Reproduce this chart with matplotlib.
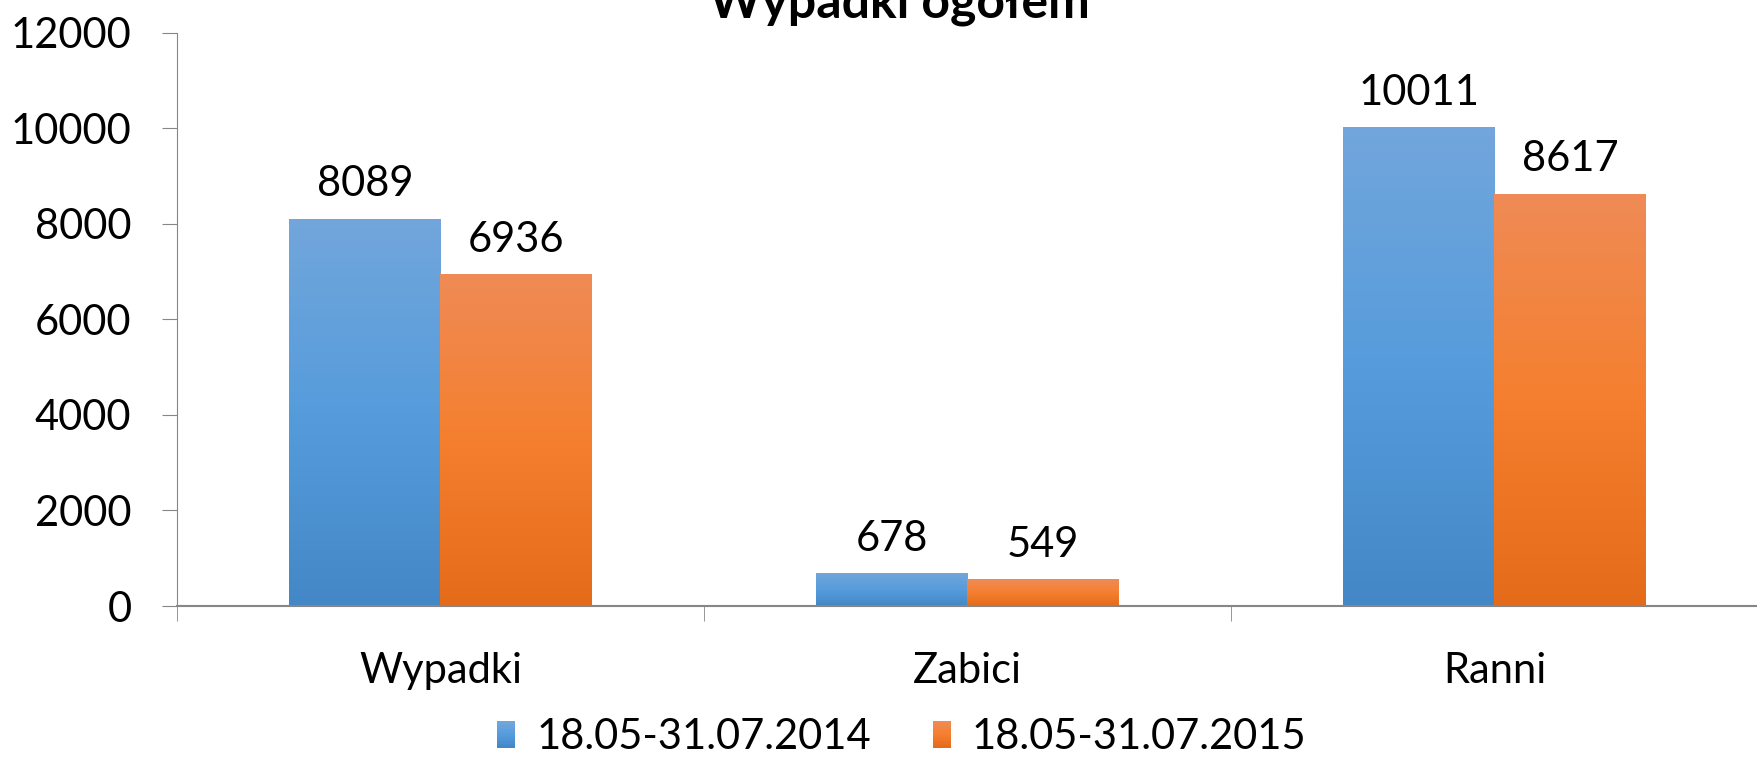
import numpy as np
import matplotlib
matplotlib.use('Agg')
import matplotlib.pyplot as plt
from matplotlib.patches import Patch, Rectangle
from matplotlib.legend_handler import HandlerBase
from matplotlib.colors import to_rgb

# Dane
kategorie = ['Wypadki', 'Zabici', 'Ranni']
serie = ['18.05-31.07.2014', '18.05-31.07.2015']
wartosci_2014 = [8089, 678, 10011]
wartosci_2015 = [6936, 549, 8617]
y_ticks = [0, 2000, 4000, 6000, 8000, 10000, 12000]
tytul = 'Wypadki ogółem'

# Gradienty (góra, środek, dół) jak w Excelu
grad_niebieski = ['#72A6DB', '#569CDC', '#4487C6']
grad_pomaranczowy = ['#EF8B56', '#F57F2F', '#E46B1A']

plt.rcParams['font.family'] = ['Lato', 'DejaVu Sans']
ROZMIAR = 30


def gradient(kolory, n=256):
    # od dołu do góry
    top, mid, bot = [np.array(to_rgb(c)) for c in kolory]
    t = np.linspace(0, 1, n)
    arr = np.zeros((n, 1, 3))
    for i, v in enumerate(t):
        if v < 0.5:
            arr[i, 0] = bot + (mid - bot) * (v / 0.5)
        else:
            arr[i, 0] = mid + (top - mid) * ((v - 0.5) / 0.5)
    return arr


class HandlerGradient(HandlerBase):
    def __init__(self, kolory):
        super().__init__()
        self.kolory = kolory

    def create_artists(self, legend, orig_handle, xdescent, ydescent,
                       width, height, fontsize, trans):
        arr = gradient(self.kolory, 20)
        artysci = []
        n = len(arr)
        for i in range(n):
            r = Rectangle((-xdescent, -ydescent + height * i / n), width, height / n + 0.01,
                          facecolor=arr[i, 0], edgecolor='none', transform=trans)
            artysci.append(r)
        return artysci


fig = plt.figure(figsize=(17.58, 7.57), dpi=100)
ax = fig.add_axes([177 / 1758, 1 - 606 / 757, (1758 - 177) / 1758, (606 - 32.5) / 757])

x = np.arange(len(kategorie))
szer = 0.287
b1 = ax.bar(x - szer / 2, wartosci_2014, szer, color='none', zorder=2)
b2 = ax.bar(x + szer / 2, wartosci_2015, szer, color='none', zorder=2)

for kontener, kolory in [(b1, grad_niebieski), (b2, grad_pomaranczowy)]:
    g = gradient(kolory)
    for p in kontener:
        x0 = p.get_x()
        w = p.get_width()
        h = p.get_height()
        ax.imshow(g, extent=[x0, x0 + w, 0, h], origin='lower', aspect='auto',
                  interpolation='bilinear', zorder=2)
        ax.annotate(str(int(h)), (x0 + w / 2, h), xytext=(0, 16.5), textcoords='offset points',
                    ha='center', va='baseline', fontsize=ROZMIAR, color='black')

ax.set_xlim(-0.5, 2.467)
ax.set_ylim(0, 12000)
ax.set_yticks(y_ticks)
ax.set_yticklabels([str(v) for v in y_ticks])
ax.set_xticks(x)
ax.set_xticklabels(kategorie)
ax.set_xticks([-0.5, 0.5, 1.5, 2.5], minor=True)

szary = '#868686'
for s in ['top', 'right']:
    ax.spines[s].set_visible(False)
ax.spines['left'].set_color(szary)
ax.spines['bottom'].set_color(szary)
ax.spines['bottom'].set_linewidth(1.5)
ax.tick_params(axis='y', length=10.8, color=szary, pad=22, labelsize=ROZMIAR)
ax.tick_params(axis='x', which='major', length=0, pad=33, labelsize=ROZMIAR)
ax.tick_params(axis='x', which='minor', length=10.8, color=szary)
ax.set_facecolor('white')

fig.text(899 / 1758, 1 - 17 / 757, tytul, ha='center', va='baseline',
         fontsize=36, fontweight='bold')

uchwyty = [Patch(label=serie[0]), Patch(label=serie[1])]
fig.legend(uchwyty, serie, loc='center', bbox_to_anchor=(902 / 1758, 1 - 737 / 757),
           ncol=2, frameon=False, fontsize=ROZMIAR,
           handlelength=0.43, handleheight=0.62, handletextpad=0.5, columnspacing=1.5,
           handler_map={uchwyty[0]: HandlerGradient(grad_niebieski),
                        uchwyty[1]: HandlerGradient(grad_pomaranczowy)})

plt.savefig('out.png', dpi=100)
